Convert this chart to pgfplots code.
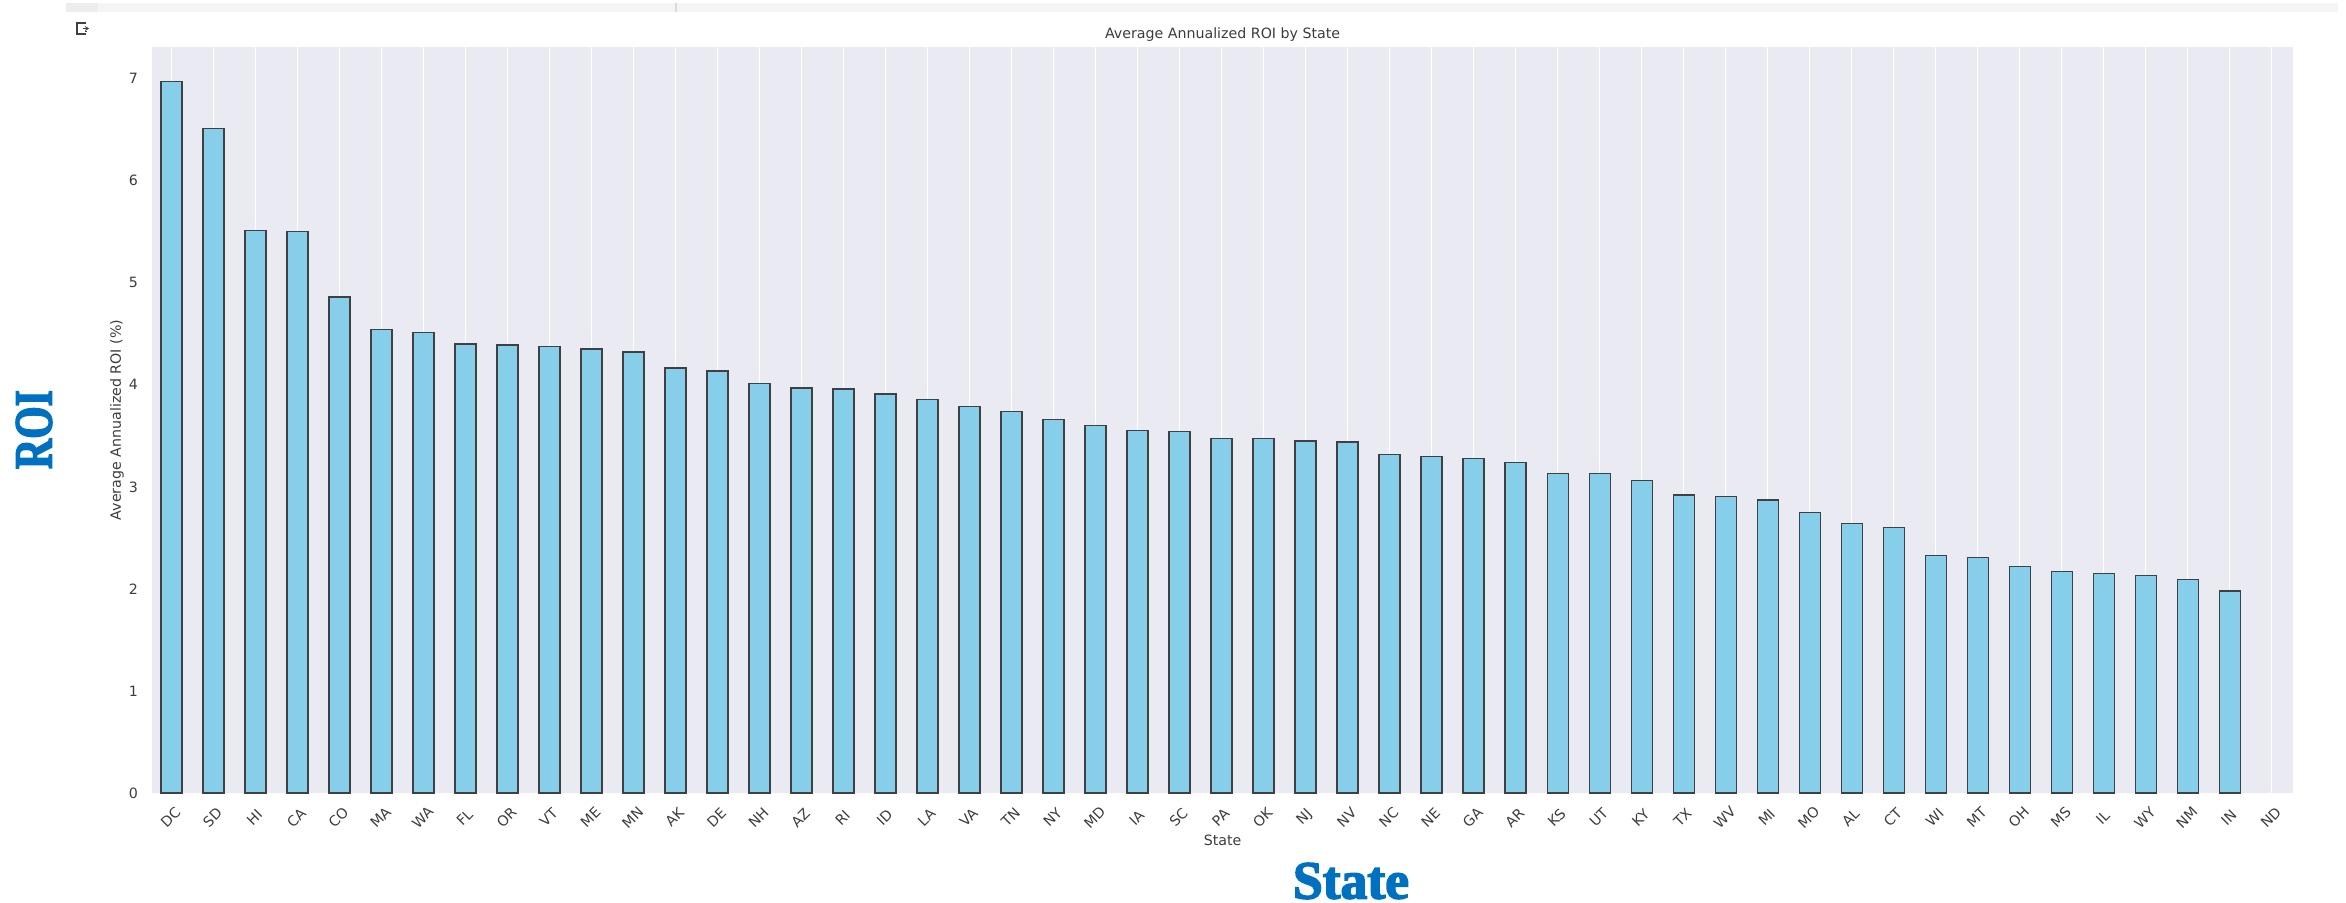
\documentclass[border=0pt]{standalone}
\usepackage{fontspec}
\setmainfont{DejaVu Sans}
\newfontfamily\blueserif[BoldFeatures={FakeBold=3}]{Liberation Serif}
\usepackage{pgfplots}
\usepackage{pgfplotstable}
\usetikzlibrary{arrows.meta}
\pgfplotsset{compat=1.18}
\definecolor{panel}{HTML}{EAEAF2}
\definecolor{barfill}{HTML}{87CEEB}
\definecolor{labeltext}{HTML}{3C3C3C}
\definecolor{bigblue}{HTML}{0070C0}
\definecolor{strip}{HTML}{F5F5F5}
\definecolor{stripdark}{HTML}{EDEDED}
\pgfplotstableread{
idx roi
0 6.97
1 6.51
2 5.51
3 5.50
4 4.86
5 4.54
6 4.51
7 4.40
8 4.39
9 4.375
10 4.35
11 4.32
12 4.165
13 4.135
14 4.01
15 3.97
16 3.96
17 3.91
18 3.855
19 3.79
20 3.735
21 3.66
22 3.60
23 3.555
24 3.54
25 3.475
26 3.475
27 3.45
28 3.44
29 3.32
30 3.30
31 3.275
32 3.24
33 3.13
34 3.13
35 3.06
36 2.92
37 2.905
38 2.87
39 2.75
40 2.64
41 2.60
42 2.33
43 2.31
44 2.22
45 2.17
46 2.15
47 2.13
48 2.09
49 1.98
50 nan
}\roitable
\begin{document}
\begin{tikzpicture}[x=0.5pt,y=-0.5pt,every node/.style={text=labeltext}]
\useasboundingbox (0,0) rectangle (2346,903);
\fill[strip] (66,3) rectangle (2338,12);
\fill[stripdark] (66,3) rectangle (98,12);
\fill[black!14] (675,3) rectangle (676.5,12);
\draw[black!75,line width=0.6pt] (86,23) -- (77,23) -- (77,34) -- (86,34) (86,32) -- (86,31);
\draw[black!75,line width=0.6pt,-{Stealth[length=2pt,width=2.5pt]}] (83,28.5) -- (89,28.5);
\begin{axis}[
  at={(76pt,-396.5pt)}, anchor=south west,
  scale only axis,
  width=1070.5pt, height=373pt,
  ybar, bar shift=0pt, bar width=0.5,
  xmin=-0.464, xmax=50.51,
  ymin=0, ymax=7.31,
  axis background/.style={fill=panel},
  axis line style={draw=none},
  major tick length=0pt,
  xmajorgrids, ymajorgrids=false,
  major grid style={white,line width=0.7pt},
  xtick={0,...,50},
  xticklabels={DC,SD,HI,CA,CO,MA,WA,FL,OR,VT,ME,MN,AK,DE,NH,AZ,RI,ID,LA,VA,TN,NY,MD,IA,SC,PA,OK,NJ,NV,NC,NE,GA,AR,KS,UT,KY,TX,WV,MI,MO,AL,CT,WI,MT,OH,MS,IL,WY,NM,IN,ND},
  ytick={0,...,7},
  tick label style={font=\fontsize{7.1}{8}\selectfont,text=labeltext},
  /pgf/number format/assume math mode=true,
  xticklabel style={rotate=45,anchor=center,xshift=-9pt,yshift=-8.3pt},
  yticklabel style={xshift=-3.5pt},
  title={Average Annualized ROI by State},
  title style={font=\fontsize{7.1}{8}\selectfont,text=labeltext,at={(0.5,1)},anchor=base,yshift=-1.5pt},
  xlabel={State},
  xlabel style={font=\fontsize{7.1}{8}\selectfont,text=labeltext,at={(axis description cs:0.5,0)},anchor=center,yshift=-23.5pt},
  ylabel={Average Annualized ROI (\%)},
  ylabel style={font=\fontsize{7.1}{8}\selectfont,text=labeltext,at={(axis description cs:0,0.5)},anchor=center,rotate=0,yshift=17.5pt},
]
\addplot[fill=barfill,draw=black!75,line width=0.65pt] table[x=idx,y=roi] {\roitable};
\end{axis}
\node[text=bigblue,font=\blueserif\bfseries\fontsize{26.8}{30}\selectfont,anchor=center] at (1351,881) {State};
\node[text=bigblue,font=\blueserif\bfseries\fontsize{26.8}{30}\selectfont,anchor=center,rotate=90] at (34,429.5) {\scalebox{0.78}[1]{ROI}};
\end{tikzpicture}
\end{document}
